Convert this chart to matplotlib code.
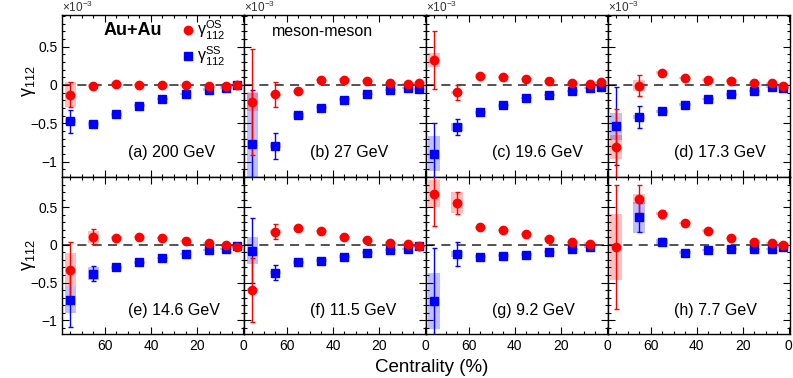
import numpy as np
import matplotlib
matplotlib.use('Agg')
import matplotlib.pyplot as plt
from matplotlib.ticker import MultipleLocator, FuncFormatter
from matplotlib.patches import Rectangle
from matplotlib.lines import Line2D

plt.rcParams['font.family'] = ['Liberation Sans', 'DejaVu Sans']
plt.rcParams['mathtext.fontset'] = 'custom'
plt.rcParams['mathtext.rm'] = 'Liberation Sans'
plt.rcParams['mathtext.it'] = 'Liberation Sans:italic'
plt.rcParams['mathtext.bf'] = 'Liberation Sans:bold'

nan = np.nan
centrality = [75, 65, 55, 45, 35, 25, 15, 7.5, 2.5]
energies = ["200 GeV", "27 GeV", "19.6 GeV", "17.3 GeV", "14.6 GeV", "11.5 GeV", "9.2 GeV", "7.7 GeV"]
panel_tags = ["(a)", "(b)", "(c)", "(d)", "(e)", "(f)", "(g)", "(h)"]

# gamma_112 (x 1e-3), opposite-sign
os_200 = [-0.126, -0.01, 0.013, -0.004, 0.0, 0.0, -0.01, -0.01, 0.004]
os_27 = [-0.217, -0.122, -0.083, 0.061, 0.07, 0.048, 0.026, 0.013, 0.022]
os_196 = [0.326, -0.096, 0.117, 0.1, 0.078, 0.048, 0.026, 0.009, 0.035]
os_173 = [-0.81, -0.009, 0.16, 0.087, 0.07, 0.057, 0.03, 0.022, -0.009]
os_146 = [-0.33, 0.106, 0.097, 0.106, 0.093, 0.053, 0.022, -0.004, -0.027]
os_115 = [-0.597, 0.173, 0.22, 0.18, 0.1, 0.058, 0.031, 0.009, -0.018]
os_92 = [0.677, 0.557, 0.235, 0.2, 0.14, 0.084, 0.035, 0.018, nan]
os_77 = [-0.031, 0.606, 0.41, 0.288, 0.19, 0.088, 0.044, 0.022, 0.0]

os_stat_200 = [0.16, 0.01, 0.01, 0.01, 0.01, 0.01, 0.01, 0.01, 0.01]
os_stat_27 = [0.69, 0.16, 0.02, 0.015, 0.01, 0.01, 0.01, 0.01, 0.01]
os_stat_196 = [0.38, 0.1, 0.02, 0.015, 0.01, 0.01, 0.01, 0.01, 0.01]
os_stat_173 = [0.5, 0.14, 0.02, 0.015, 0.01, 0.01, 0.01, 0.01, 0.01]
os_stat_146 = [0.37, 0.1, 0.02, 0.015, 0.01, 0.01, 0.01, 0.01, 0.01]
os_stat_115 = [0.42, 0.1, 0.02, 0.015, 0.01, 0.01, 0.01, 0.01, 0.01]
os_stat_92 = [0.43, 0.15, 0.02, 0.015, 0.01, 0.01, 0.01, 0.01, nan]
os_stat_77 = [0.82, 0.19, 0.05, 0.015, 0.01, 0.01, 0.01, 0.01, 0.01]

os_sys_200 = [0.16, 0.02, 0.02, 0.015, 0.015, 0.015, 0.015, 0.015, 0.015]
os_sys_27 = [0.12, 0.02, 0.02, 0.015, 0.015, 0.015, 0.015, 0.015, 0.015]
os_sys_196 = [0.09, 0.02, 0.02, 0.015, 0.015, 0.015, 0.015, 0.015, 0.015]
os_sys_173 = [0.16, 0.07, 0.02, 0.015, 0.015, 0.015, 0.015, 0.015, 0.015]
os_sys_146 = [0.22, 0.08, 0.02, 0.015, 0.015, 0.015, 0.015, 0.015, 0.015]
os_sys_115 = [0.02, 0.02, 0.02, 0.015, 0.015, 0.015, 0.015, 0.015, 0.015]
os_sys_92 = [0.18, 0.14, 0.02, 0.015, 0.015, 0.015, 0.015, 0.015, nan]
os_sys_77 = [0.44, 0.07, 0.02, 0.015, 0.015, 0.015, 0.015, 0.015, 0.015]

# same-sign
ss_200 = [-0.47, -0.51, -0.38, -0.27, -0.187, -0.12, -0.06, -0.043, 0.0]
ss_27 = [-0.774, -0.79, -0.396, -0.296, -0.19, -0.117, -0.065, -0.043, -0.052]
ss_196 = [-0.896, -0.548, -0.357, -0.265, -0.174, -0.13, -0.074, -0.035, -0.022]
ss_173 = [-0.54, -0.417, -0.34, -0.256, -0.183, -0.122, -0.074, -0.026, -0.039]
ss_146 = [-0.726, -0.38, -0.3, -0.23, -0.173, -0.124, -0.071, -0.053, -0.018]
ss_115 = [-0.08, -0.367, -0.23, -0.212, -0.155, -0.102, -0.066, -0.053, -0.013]
ss_92 = [-0.743, -0.124, -0.155, -0.142, -0.128, -0.093, -0.053, -0.022, nan]
ss_77 = [nan, 0.363, 0.044, -0.106, -0.071, -0.053, -0.053, -0.058, -0.031]

ss_stat_200 = [0.15, 0.02, 0.01, 0.01, 0.01, 0.01, 0.01, 0.01, 0.01]
ss_stat_27 = [0.71, 0.17, 0.02, 0.015, 0.01, 0.01, 0.01, 0.01, 0.01]
ss_stat_196 = [0.4, 0.1, 0.02, 0.015, 0.01, 0.01, 0.01, 0.01, 0.01]
ss_stat_173 = [0.51, 0.14, 0.02, 0.015, 0.01, 0.01, 0.01, 0.01, 0.01]
ss_stat_146 = [0.36, 0.095, 0.02, 0.015, 0.01, 0.01, 0.01, 0.01, 0.01]
ss_stat_115 = [0.43, 0.1, 0.02, 0.015, 0.01, 0.01, 0.01, 0.01, 0.01]
ss_stat_92 = [0.7, 0.16, 0.02, 0.015, 0.01, 0.01, 0.01, 0.01, nan]
ss_stat_77 = [nan, 0.19, 0.05, 0.015, 0.01, 0.01, 0.01, 0.01, 0.01]

ss_sys_200 = [0.03, 0.03, 0.02, 0.02, 0.015, 0.015, 0.015, 0.015, 0.015]
ss_sys_27 = [0.67, 0.03, 0.03, 0.02, 0.015, 0.015, 0.015, 0.015, 0.015]
ss_sys_196 = [0.23, 0.05, 0.02, 0.02, 0.015, 0.015, 0.015, 0.015, 0.015]
ss_sys_173 = [0.18, 0.03, 0.02, 0.02, 0.015, 0.015, 0.015, 0.015, 0.015]
ss_sys_146 = [0.18, 0.09, 0.02, 0.02, 0.015, 0.015, 0.015, 0.015, 0.015]
ss_sys_115 = [0.18, 0.02, 0.02, 0.02, 0.015, 0.015, 0.015, 0.015, 0.015]
ss_sys_92 = [0.37, 0.04, 0.02, 0.02, 0.015, 0.015, 0.015, 0.015, nan]
ss_sys_77 = [nan, 0.2, 0.03, 0.02, 0.015, 0.015, 0.015, 0.015, 0.015]

os_all = [os_200, os_27, os_196, os_173, os_146, os_115, os_92, os_77]
os_stat_all = [os_stat_200, os_stat_27, os_stat_196, os_stat_173, os_stat_146, os_stat_115, os_stat_92, os_stat_77]
os_sys_all = [os_sys_200, os_sys_27, os_sys_196, os_sys_173, os_sys_146, os_sys_115, os_sys_92, os_sys_77]
ss_all = [ss_200, ss_27, ss_196, ss_173, ss_146, ss_115, ss_92, ss_77]
ss_stat_all = [ss_stat_200, ss_stat_27, ss_stat_196, ss_stat_173, ss_stat_146, ss_stat_115, ss_stat_92, ss_stat_77]
ss_sys_all = [ss_sys_200, ss_sys_27, ss_sys_196, ss_sys_173, ss_sys_146, ss_sys_115, ss_sys_92, ss_sys_77]

W, H = 793, 378
fig = plt.figure(figsize=(W / 100, H / 100), dpi=100)

x0 = 62.3
pw = (790.0 - x0) / 4
rows = [(15.0, 177.0, (-1.2, 0.913)), (177.0, 334.3, (-1.186, 0.9))]

red = '#ff0000'
blue = '#0000ff'
box_hw = 2.5

def yfmt(v, pos):
    if abs(v) < 1e-9:
        return '0'
    return ('%g' % v).replace('-', '\u2212')

axes = []
for i in range(8):
    r, c = divmod(i, 4)
    top, bot, ylim = rows[r]
    left = x0 + c * pw
    ax = fig.add_axes([left / W, 1 - bot / H, pw / W, (bot - top) / H])
    axes.append(ax)
    ax.set_xlim(78.5, -0.5)
    ax.set_ylim(*ylim)
    ax.axhline(0, color='#444444', lw=1.3, ls=(0, (5, 3.5)), zorder=1)

    x = np.array(centrality, dtype=float)
    for vals, sys_, col in [(ss_all[i], ss_sys_all[i], blue), (os_all[i], os_sys_all[i], red)]:
        for xx, v, s in zip(x, vals, sys_):
            if np.isfinite(v) and np.isfinite(s):
                ax.add_patch(Rectangle((xx - box_hw, v - s), 2 * box_hw, 2 * s,
                                       facecolor=col, alpha=0.25, edgecolor='none', zorder=2))
    for vals, stat, col, mk, ms in [(ss_all[i], ss_stat_all[i], blue, 's', 5.4),
                                    (os_all[i], os_stat_all[i], red, 'o', 6.0)]:
        ax.errorbar(x, vals, yerr=stat, fmt=mk, color=col, ms=ms, mec=col, mfc=col,
                    elinewidth=1.0, capsize=1.8, capthick=1.0, zorder=3)

    ax.xaxis.set_major_locator(MultipleLocator(20))
    ax.xaxis.set_minor_locator(MultipleLocator(5))
    ax.yaxis.set_major_locator(MultipleLocator(0.5))
    ax.yaxis.set_minor_locator(MultipleLocator(0.1))
    ax.tick_params(which='both', direction='in', top=True, right=True, labelsize=10)
    ax.tick_params(which='major', length=5, width=0.8)
    ax.tick_params(which='minor', length=2.5, width=0.8)
    for sp in ax.spines.values():
        sp.set_linewidth(1.0)
    if c == 0:
        ax.yaxis.set_major_formatter(FuncFormatter(yfmt))
    else:
        ax.tick_params(labelleft=False)
    if r == 0:
        ax.tick_params(labelbottom=False)
        ax.text(0.0, 1.0, '\u00d710$^{\u22123}$', transform=ax.transAxes, fontsize=8.5,
                ha='left', va='bottom', color='#333333')
    else:
        ax.xaxis.set_major_formatter(FuncFormatter(lambda v, p: '%d' % round(v)))
    ax.text(0.36, 0.15, panel_tags[i] + ' ' + energies[i], transform=ax.transAxes,
            fontsize=11.5, ha='left', va='center')

axes[0].text(0.39, 0.905, 'Au+Au', transform=axes[0].transAxes, fontsize=13,
             fontweight='bold', ha='center', va='center')
axes[1].text(0.43, 0.9, 'meson-meson', transform=axes[1].transAxes, fontsize=11.5,
             ha='center', va='center')

handles = [Line2D([], [], marker='o', ls='none', color=red, ms=6.0),
           Line2D([], [], marker='s', ls='none', color=blue, ms=5.4)]
labels = [r'$\mathrm{\gamma}^{\mathrm{OS}}_{112}$', r'$\mathrm{\gamma}^{\mathrm{SS}}_{112}$']
axes[0].legend(handles, labels, loc='upper left', bbox_to_anchor=(0.565, 1.045), frameon=False,
               fontsize=11.5, handletextpad=-0.2, labelspacing=0.2, borderpad=0.2, handlelength=1.5)

fig.text(29 / W, 1 - 81 / H, r'$\mathrm{\gamma}_{112}$', rotation=90, fontsize=13, ha='center', va='center')
fig.text(29 / W, 1 - 255 / H, r'$\mathrm{\gamma}_{112}$', rotation=90, fontsize=13, ha='center', va='center')
fig.text(432 / W, 1 - 367 / H, 'Centrality (%)', fontsize=13.5, ha='center', va='center')

fig.savefig('out.png', dpi=100)
